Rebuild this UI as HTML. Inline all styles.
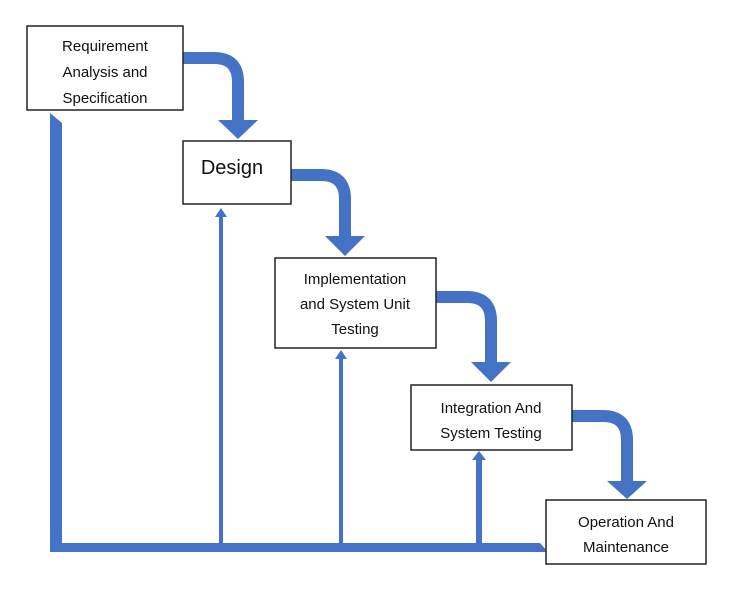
<!DOCTYPE html>
<html><head><style>
body{margin:0;background:#fff;}
svg{display:block}
text{font-family:"Liberation Sans",sans-serif;fill:#111;}
</style></head><body>
<svg width="741" height="596" viewBox="0 0 741 596">
<g fill="#4472c4" stroke="none">
<!-- left bar with chamfer -->
<polygon points="50,113 62,123 62,543 540,543 548,552 50,552"/>
<!-- thin uprights -->
<rect x="219" y="216" width="4" height="328"/>
<polygon points="215,217 227,217 221,208"/>
<rect x="339" y="358" width="4" height="186"/>
<polygon points="335,359 347,359 341,350"/>
<rect x="476" y="459" width="6" height="85"/>
<polygon points="472,460 486,460 479,451"/>
</g>
<g fill="none" stroke="#4472c4" stroke-width="12">
<path d="M183,58 H214 Q238,58 238,82 V122"/>
<path d="M291,175 H321 Q345,175 345,199 V238"/>
<path d="M436,297 H467 Q491,297 491,321 V364"/>
<path d="M572,416 H603 Q627,416 627,440 V483"/>
</g>
<g fill="#4472c4">
<polygon points="218,120 258,120 238,139"/>
<polygon points="325,236 365,236 345,256"/>
<polygon points="471,362 511,362 491,382"/>
<polygon points="607,481 647,481 627,499"/>
</g>
<g fill="#fff" stroke="#222" stroke-width="1.5">
<rect x="27" y="26" width="156" height="84"/>
<rect x="183" y="141" width="108" height="63"/>
<rect x="275" y="258" width="161" height="90"/>
<rect x="411" y="385" width="161" height="65"/>
<rect x="546" y="500" width="160" height="64"/>
</g>
<g font-size="15" text-anchor="middle">
<text x="105" y="51">Requirement</text>
<text x="105" y="77">Analysis and</text>
<text x="105" y="103">Specification</text>
<text x="232" y="174" font-size="20">Design</text>
<text x="355" y="284">Implementation</text>
<text x="355" y="309">and System Unit</text>
<text x="355" y="334">Testing</text>
<text x="491" y="413">Integration And</text>
<text x="491" y="438">System Testing</text>
<text x="626" y="527">Operation And</text>
<text x="626" y="552">Maintenance</text>
</g>
</svg>
</body></html>
